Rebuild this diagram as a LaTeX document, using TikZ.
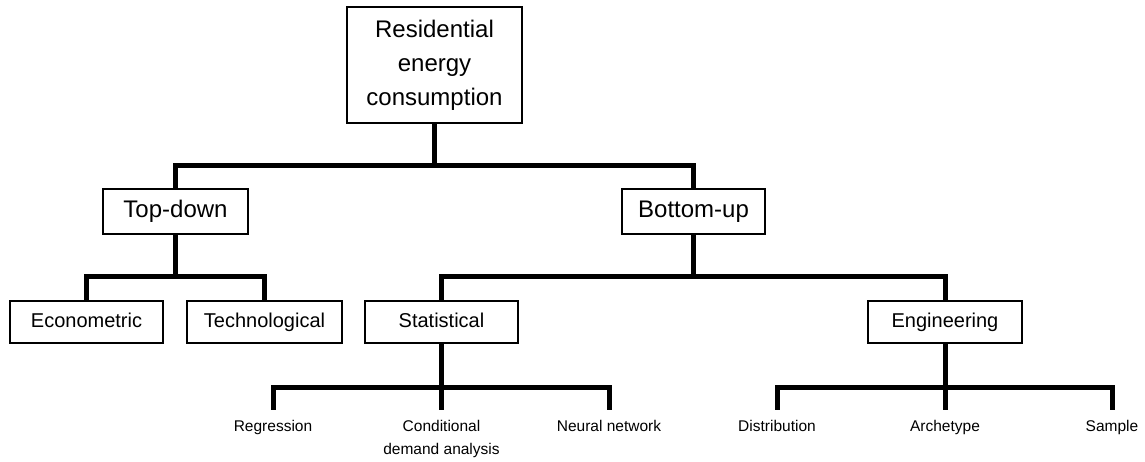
\documentclass[tikz,border=0pt]{standalone}
\usepackage{fontspec}
\setmainfont{Liberation Sans}
\begin{document}
\begin{tikzpicture}[x=1pt,y=-1pt,
  box/.style={draw,line width=1.4pt,inner sep=0pt,align=center},
  big/.style={font=\fontsize{24}{34}\selectfont},
  mid/.style={font=\fontsize{20}{24}\selectfont,text height=14.5pt,text depth=4.2pt},
  bigone/.style={big,text height=17.4pt,text depth=5pt},
  leaf/.style={font=\fontsize{15.5}{23}\selectfont,align=center,anchor=north,inner xsep=0pt,inner ysep=10pt},
  conn/.style={line width=5pt,line join=miter}]
\useasboundingbox (0,0) rectangle (1145,461);
\node[box,big,minimum width=175pt,minimum height=116pt] (root) at (434.5,65) {Residential\\energy\\consumption};
\node[box,bigone,minimum width=145pt,minimum height=45pt] (td) at (175.5,211.5) {Top-down};
\node[box,bigone,minimum width=143pt,minimum height=45pt] (bu) at (693.5,211.5) {Bottom-up};
\node[box,mid,minimum width=153pt,minimum height=42pt] (eco) at (86.5,322) {Econometric};
\node[box,mid,minimum width=155pt,minimum height=42pt] (tech) at (264.5,322) {Technological};
\node[box,mid,minimum width=153pt,minimum height=42pt] (stat) at (441.5,322) {Statistical};
\node[box,mid,minimum width=154pt,minimum height=42pt] (eng) at (945,322) {Engineering};
\node[leaf] (reg) at (273,410) {Regression};
\node[leaf] (cda) at (441.5,410) {Conditional\\demand analysis};
\node[leaf] (nn) at (609,410) {Neural network};
\node[leaf] (dist) at (777,410) {Distribution};
\node[leaf] (arch) at (945,410) {Archetype};
\node[leaf] (samp) at (1112,410) {Sample};
% connectors
\draw[conn] (root.south) -- ++(0,42) -| (td.north);
\draw[conn] (root.south) ++(0,42) -| (bu.north);
\draw[conn] (td.south) -- ++(0,42) -| (eco.north);
\draw[conn] (td.south) ++(0,42) -| (tech.north);
\draw[conn] (bu.south) -- ++(0,42) -| (stat.north);
\draw[conn] (bu.south) ++(0,42) -| (eng.north);
\draw[conn] (stat.south) -- ++(0,44) -| (reg.north);
\draw[conn] (stat.south) ++(0,44) -| (nn.north);
\draw[conn] (stat.south) -- (cda.north);
\draw[conn] (eng.south) -- ++(0,44) -| (dist.north);
\draw[conn] (eng.south) ++(0,44) -| (samp.north);
\draw[conn] (eng.south) -- (arch.north);
\end{tikzpicture}
\end{document}
